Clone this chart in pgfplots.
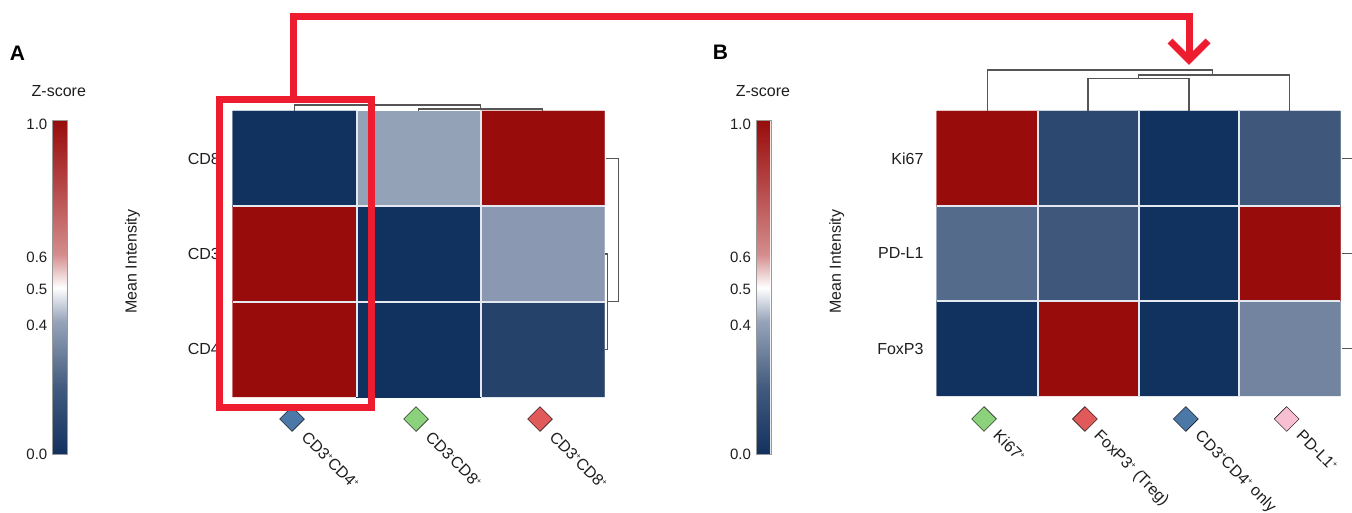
\documentclass[border=0pt]{standalone}
\usepackage{pgfplots}
\pgfplotsset{compat=1.18}
\usepackage{fontspec}
\setmainfont{Liberation Sans}
\definecolor{navy}{RGB}{17,49,94}
\definecolor{dred}{RGB}{153,12,12}
\definecolor{boxred}{RGB}{237,28,46}
\definecolor{dgray}{RGB}{85,85,85}
\definecolor{gridc}{RGB}{228,232,240}
\definecolor{cblue}{RGB}{76,120,168}
\definecolor{cgreen}{RGB}{140,210,125}
\definecolor{cred}{RGB}{224,90,90}
\definecolor{cpink}{RGB}{248,190,210}
\definecolor{txt}{RGB}{30,30,30}
\newcommand{\p}{\raisebox{0.35em}{\fontsize{8}{8}\selectfont +}}
\newcommand{\m}{\raisebox{0.35em}{\fontsize{8}{8}\selectfont -}}
\tikzset{xl/.style={inner sep=0pt, anchor=north west}}
\pgfplotsset{
  zmap/.style={colormap={zrb}{rgb255(0cm)=(17,49,94); rgb255(2cm)=(66,90,126); rgb255(4cm)=(150,164,186); rgb255(5cm)=(255,255,255); rgb255(6cm)=(212,140,140); rgb255(8cm)=(182,72,72); rgb255(10cm)=(153,12,12)}},
  hm/.style={zmap, scale only axis, clip=false, axis line style={draw=none},
    xtick=\empty, ytick=\empty, point meta min=0, point meta max=1,
    colorbar, colorbar shift/.style={},
    /pgf/number format/assume math mode=true},
  cbar/.style={at={(parent axis.north west)}, anchor=north west, width=15pt, height=334pt, scale only axis,
    ytick={0,0.388,0.494,0.59,0.988}, yticklabels={0.0,0.4,0.5,0.6,1.0},
    yticklabel pos=left, major tick length=0pt, tick style={draw=none},
    axis line style={draw=gray!80, line width=0.6pt},
    yticklabel style={font=\fontsize{15}{18}\selectfont, text=txt, xshift=-1.5pt},
    /pgf/number format/assume math mode=true},
  dend/.style={no marks, draw=dgray, line width=1.2pt, forget plot},
}
\begin{document}
\begin{tikzpicture}[font=\fontsize{16}{19}\selectfont, text=txt]
\useasboundingbox (0,0) rectangle (1352pt,513pt);
% ---------------- Panel A ----------------
\begin{axis}[hm, at={(232.5pt,116pt)}, anchor=south west, width=372pt, height=286pt,
  xmin=-0.5, xmax=2.5, ymin=-0.5, ymax=2.5,
  colorbar style={cbar, xshift=-180.2pt, yshift=-9.7pt}]
\addplot[matrix plot*, mesh/cols=3, point meta=explicit] table[meta=c]{
x y c
0 0 1
1 0 0
2 0 0.082
0 1 1
1 1 0
2 1 0.371
0 2 0
1 2 0.395
2 2 1
};
\draw[gridc, line width=2pt] (axis cs:0.5,-0.5) -- (axis cs:0.5,2.5);
\draw[gridc, line width=2pt] (axis cs:1.5,-0.5) -- (axis cs:1.5,2.5);
\draw[gridc, line width=2pt] (axis cs:-0.5,0.5) -- (axis cs:2.5,0.5);
\draw[gridc, line width=2pt] (axis cs:-0.5,1.5) -- (axis cs:2.5,1.5);
% top dendrogram
\addplot[dend] coordinates {(0,2.5) (0,2.563) (1.5,2.563) (1.5,2.521)};
\addplot[dend] coordinates {(1,2.5) (1,2.521) (2,2.521) (2,2.5)};
% right dendrogram
\addplot[dend] coordinates {(2.512,2) (2.611,2) (2.611,0.5) (2.526,0.5)};
\addplot[dend] coordinates {(2.505,1) (2.526,1) (2.526,0) (2.505,0)};
% diamonds
\addplot[only marks, mark=square*, mark size=8.8pt, mark options={rotate=45, fill=cblue, draw=none}, forget plot] coordinates {(-0.02,-0.731)};
\addplot[only marks, mark=square*, mark size=8.8pt, mark options={rotate=45, fill=cgreen, draw=none}, forget plot] coordinates {(0.98,-0.731)};
\addplot[only marks, mark=square*, mark size=8.8pt, mark options={rotate=45, fill=cred, draw=none}, forget plot] coordinates {(1.98,-0.731)};
% labels
\node[anchor=east, inner sep=0pt, xshift=-12.5pt] at (axis cs:-0.5,2) {CD8};
\node[anchor=east, inner sep=0pt, xshift=-12.5pt] at (axis cs:-0.5,1) {CD3};
\node[anchor=east, inner sep=0pt, xshift=-12.5pt] at (axis cs:-0.5,0) {CD4};
\node[xshift=14pt, yshift=-33pt, rotate=-45, xl] at (axis cs:0,-0.5) {CD3\p CD4\p};
\node[xshift=14pt, yshift=-33pt, rotate=-45, xl] at (axis cs:1,-0.5) {CD3\m CD8\p};
\node[xshift=14pt, yshift=-33pt, rotate=-45, xl] at (axis cs:2,-0.5) {CD3\p CD8\p};
\end{axis}
% ---------------- Panel B ----------------
\begin{axis}[hm, at={(936.7pt,117pt)}, anchor=south west, width=403.6pt, height=285pt,
  xmin=-0.5, xmax=3.5, ymin=-0.5, ymax=2.5,
  colorbar style={cbar, xshift=-180.7pt, yshift=-9.7pt}]
\addplot[matrix plot*, mesh/cols=4, point meta=explicit] table[meta=c]{
x y c
0 0 0
1 0 1
2 0 0
3 0 0.314
0 1 0.245
1 1 0.184
2 1 0
3 1 1
0 2 1
1 2 0.11
2 2 0
3 2 0.184
};
\draw[gridc, line width=2pt] (axis cs:0.5,-0.5) -- (axis cs:0.5,2.5);
\draw[gridc, line width=2pt] (axis cs:1.5,-0.5) -- (axis cs:1.5,2.5);
\draw[gridc, line width=2pt] (axis cs:2.5,-0.5) -- (axis cs:2.5,2.5);
\draw[gridc, line width=2pt] (axis cs:-0.5,0.5) -- (axis cs:3.5,0.5);
\draw[gridc, line width=2pt] (axis cs:-0.5,1.5) -- (axis cs:3.5,1.5);
% top dendrogram
\addplot[dend] coordinates {(0,2.5) (0,2.932) (2.235,2.932) (2.235,2.879)};
\addplot[dend] coordinates {(1.5,2.840) (1.5,2.879) (3,2.879) (3,2.5)};
\addplot[dend] coordinates {(1,2.5) (1,2.840) (2,2.840) (2,2.5)};
% right stubs
\addplot[dend] coordinates {(3.517,2) (3.62,2)};
\addplot[dend] coordinates {(3.517,1) (3.62,1)};
\addplot[dend] coordinates {(3.517,0) (3.62,0)};
% diamonds
\addplot[only marks, mark=square*, mark size=8.8pt, mark options={rotate=45, fill=cgreen, draw=none}, forget plot] coordinates {(-0.031,-0.742)};
\addplot[only marks, mark=square*, mark size=8.8pt, mark options={rotate=45, fill=cred, draw=none}, forget plot] coordinates {(0.969,-0.742)};
\addplot[only marks, mark=square*, mark size=8.8pt, mark options={rotate=45, fill=cblue, draw=none}, forget plot] coordinates {(1.969,-0.742)};
\addplot[only marks, mark=square*, mark size=8.8pt, mark options={rotate=45, fill=cpink, draw=none}, forget plot] coordinates {(2.969,-0.742)};
% labels
\node[anchor=east, inner sep=0pt, xshift=-13pt] at (axis cs:-0.5,2) {Ki67};
\node[anchor=east, inner sep=0pt, xshift=-13pt] at (axis cs:-0.5,1) {PD-L1};
\node[anchor=east, inner sep=0pt, xshift=-13pt] at (axis cs:-0.5,0) {FoxP3};
\node[xshift=13.5pt, yshift=-32.5pt, rotate=-45, xl] at (axis cs:0,-0.5) {Ki67\p};
\node[xshift=13.5pt, yshift=-32.5pt, rotate=-45, xl] at (axis cs:1,-0.5) {FoxP3\p{} (Treg)};
\node[xshift=13.5pt, yshift=-32.5pt, rotate=-45, xl] at (axis cs:2,-0.5) {CD3\p CD4\p{} only};
\node[xshift=13.5pt, yshift=-32.5pt, rotate=-45, xl] at (axis cs:3,-0.5) {PD-L1\p};
\end{axis}
% ---------------- annotations ----------------
\node[font=\fontsize{21}{24}\selectfont\bfseries, text=black] at (17.5pt,460pt) {A};
\node[font=\fontsize{21}{24}\selectfont\bfseries, text=black] at (720.5pt,461pt) {B};
\node at (58.8pt,422.3pt) {Z-score};
\node at (763pt,422.3pt) {Z-score};
\node[rotate=90] at (132.5pt,251.3pt) {Mean Intensity};
\node[rotate=90] at (836.7pt,251.3pt) {Mean Intensity};
\draw[boxred, line width=7.3pt, line join=miter] (219.5pt,105.5pt) rectangle (371.7pt,413.3pt);
\draw[boxred, line width=7pt, line join=miter] (293.7pt,413.3pt) -- (293.7pt,496pt) -- (1189pt,496pt) -- (1189pt,456pt);
\draw[boxred, line width=7pt, line join=miter] (1170pt,472pt) -- (1189pt,453pt) -- (1208pt,472pt);
\end{tikzpicture}
\end{document}
